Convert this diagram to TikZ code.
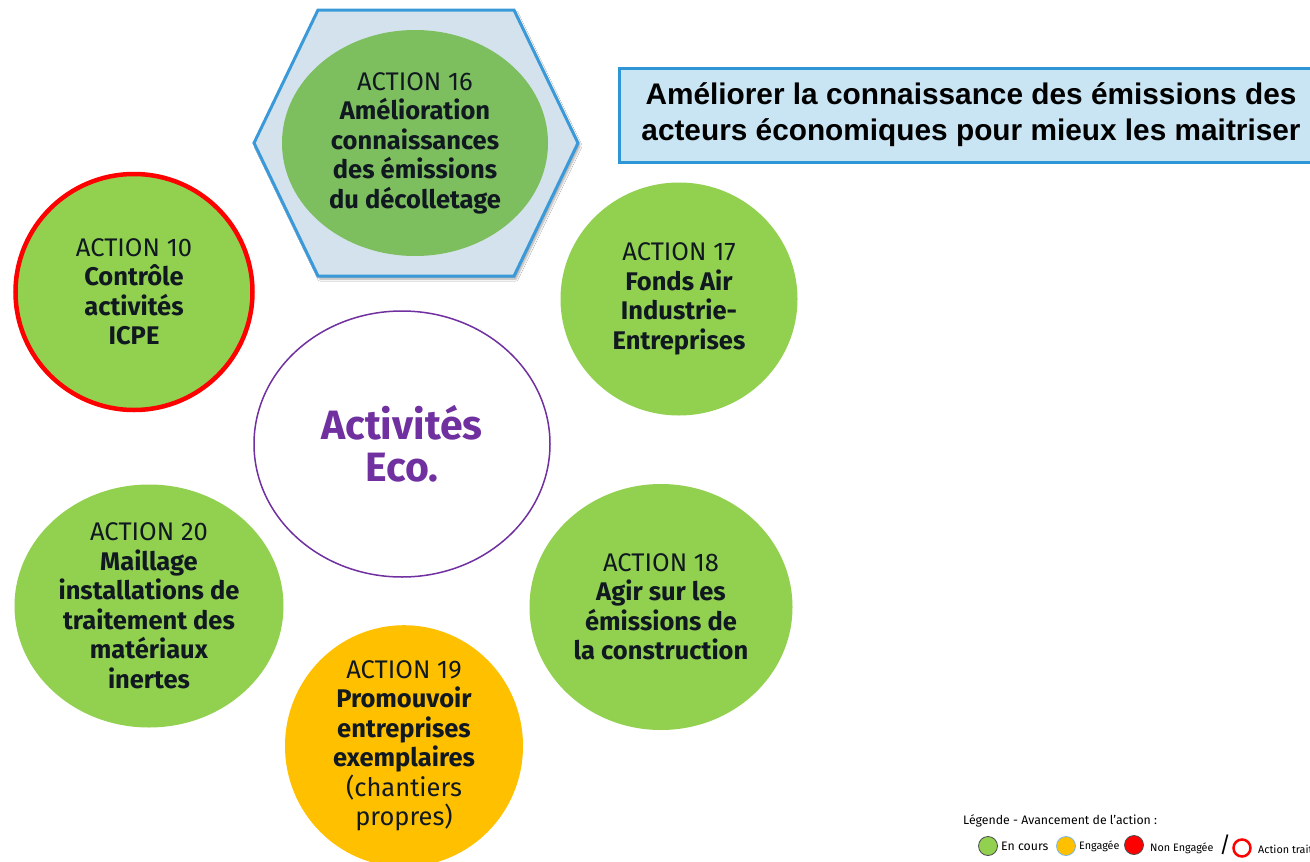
\documentclass[tikz,border=0pt]{standalone}
\usepackage{fontspec}
\setmainfont{Fira Sans}
\newfontfamily\titlefont{Liberation Sans}
\usetikzlibrary{shapes.geometric,shadows.blur,positioning}
\definecolor{cgreen}{HTML}{92D050}
\definecolor{cdgreen}{HTML}{7DBE5F}
\definecolor{cyellow}{HTML}{FFC000}
\definecolor{cred}{HTML}{FF0000}
\definecolor{cpurple}{HTML}{7030A0}
\definecolor{hexfill}{HTML}{D3E2EC}
\definecolor{hexline}{HTML}{3A9AD9}
\definecolor{titlefill}{HTML}{C9E4F2}
\definecolor{titleline}{HTML}{2E96D4}
\definecolor{txt}{HTML}{101820}
\begin{document}
\begin{tikzpicture}[x=1pt,y=-1pt,
  act/.style={ellipse,draw=none,fill=cgreen,inner sep=0pt,align=center,text=txt,font=\fontsize{25.5}{29.5}\selectfont},
  lg/.style={font=\fontsize{12.3}{14}\selectfont,anchor=west,inner sep=0pt},
  lgs/.style={font=\fontsize{10.8}{13}\selectfont,anchor=west,inner sep=0pt}]
\useasboundingbox (0,0) rectangle (1310,862);
\clip (0,0) rectangle (1310,862);
\fill[white] (0,0) rectangle (1310,862);
% hexagon
\draw[line width=3pt,draw=hexline,fill=hexfill,blur shadow={shadow xshift=2pt,shadow yshift=-3pt,shadow blur steps=6,shadow opacity=35}]
  (318,10) -- (514,10) -- (578,143) -- (514,276) -- (318,276) -- (254,143) -- cycle;
\node[act,fill=cdgreen,minimum width=266pt,minimum height=226pt] (a16) at (415,143) {};
\node[align=center,text=txt,font=\fontsize{25.5}{29.5}\selectfont] (t16) at (415,143) {ACTION 16\\\textbf{Amélioration}\\\textbf{connaissances}\\\textbf{des émissions}\\\textbf{du décolletage}};
% title
\node[draw=titleline,line width=2.5pt,fill=titlefill,minimum width=720pt,minimum height=94pt,anchor=north west,inner sep=0pt] (tb) at (618,67) {};
\node[align=center,font=\titlefont\bfseries\fontsize{29.8}{36}\selectfont,text=black] (tt) at (971,115) {Améliorer la connaissance des émissions des\\acteurs économiques pour mieux les maitriser};
% action 10
\node[act,draw=cred,line width=4.5pt,minimum width=237pt,minimum height=236pt] (a10) at (134,292) {ACTION 10\\\textbf{Contrôle}\\\textbf{activités}\\\textbf{ICPE}};
% center
\node[ellipse,draw=cpurple,line width=1.5pt,fill=white,minimum width=296pt,minimum height=266pt,align=center,text=cpurple,font=\bfseries\fontsize{41}{42}\selectfont] (c) at (402,444) {Activités\\Eco.};
% action 17
\node[act,minimum width=237pt,minimum height=233pt] (a17) at (679,299) {ACTION 17\\\textbf{Fonds Air}\\\textbf{Industrie-}\\\textbf{Entreprises}};
% action 18
\node[act,minimum width=263pt,minimum height=246pt] (a18) at (661,607) {ACTION 18\\\textbf{Agir sur les}\\\textbf{émissions de}\\\textbf{la construction}};
% action 20
\node[act,minimum width=269pt,minimum height=243pt] (a20) at (149,606) {ACTION 20\\\textbf{Maillage}\\\textbf{installations de}\\\textbf{traitement des}\\\textbf{matériaux}\\\textbf{inertes}};
% action 19
\node[act,fill=cyellow,minimum width=238pt,minimum height=238pt] (a19) at (404,746) {ACTION 19\\\textbf{Promouvoir}\\\textbf{entreprises}\\\textbf{exemplaires}\\(chantiers\\propres)};
% legend
\node[lg] (lt) at (963,821) {Légende - Avancement de l'action :};
\node[circle,draw=black!70,line width=0.8pt,fill=cgreen,minimum size=19pt,inner sep=0pt] (l1) at (988,846) {};
\node[lg,right=3pt of l1] (l1t) {En cours};
\node[circle,draw=hexline!70,line width=0.8pt,fill=cyellow,minimum size=19pt,inner sep=0pt] (l2) at (1066,846) {};
\node[lgs,right=3pt of l2] (l2t) {Engagée};
\node[circle,draw=black!70,line width=0.8pt,fill=cred,minimum size=19pt,inner sep=0pt] (l3) at (1134,845) {};
\node[lgs,anchor=west] (l3t) at (1150,848) {Non Engagée};
\node[font=\fontsize{22}{22}\selectfont,inner sep=0pt] (sl) at (1225,845) {/};
\node[circle,draw=cred,line width=2.5pt,fill=white,minimum size=17pt,inner sep=0pt] (l4) at (1242,848) {};
\node[lgs,anchor=west] (l4t) at (1258,849) {Action traitée};
\end{tikzpicture}
\end{document}
